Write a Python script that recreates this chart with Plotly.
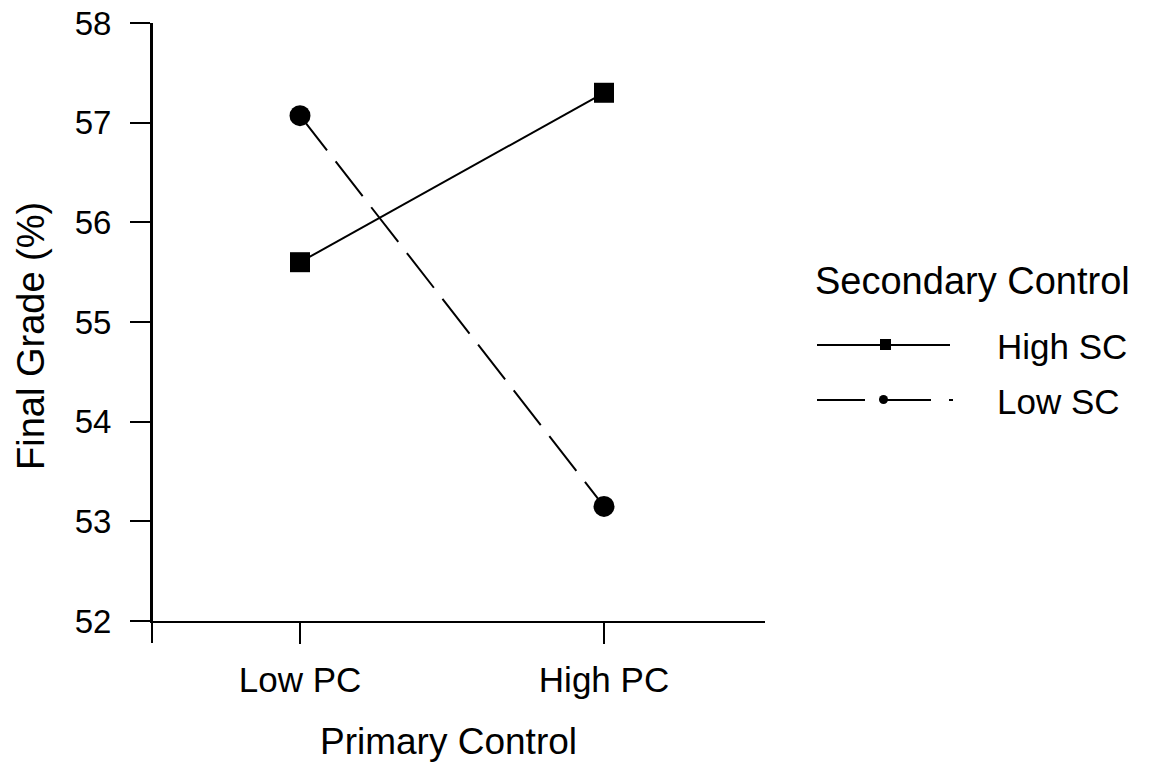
import plotly.graph_objects as go

categories = ["Low PC", "High PC"]
cat_pos = [0, 1]
high_sc = [55.6, 57.3]
low_sc = [57.07, 53.15]
y_ticks = [52, 53, 54, 55, 56, 57, 58]

W, H = 1156, 766
# plot area in page pixels
L, R, T, B = 152, 765, 23, 621
pw, ph = R - L, B - T

def px(x):
    return (x - L) / pw

def py(y):
    return (B - y) / ph

FONT = "Liberation Sans, Arial, sans-serif"

fig = go.Figure()
fig.add_trace(go.Scatter(
    x=cat_pos, y=high_sc, mode="lines+markers", name="High SC",
    line=dict(color="black", width=2),
    marker=dict(symbol="square", size=20, color="black"),
))
fig.add_trace(go.Scatter(
    x=cat_pos, y=low_sc, mode="lines+markers", name="Low SC",
    line=dict(color="black", width=2, dash="44px,14px"),
    marker=dict(symbol="circle", size=21, color="black"),
))

shapes = [
    dict(type="line", xref="paper", yref="paper", x0=0, x1=0, y0=1, y1=py(643),
         line=dict(color="black", width=2)),
    dict(type="line", xref="paper", yref="paper", x0=px(817), x1=px(950), y0=py(345), y1=py(345),
         line=dict(color="black", width=2)),
    dict(type="rect", xref="paper", yref="paper", x0=px(880), x1=px(891), y0=py(339), y1=py(350),
         line=dict(color="black", width=0), fillcolor="black"),
    dict(type="line", xref="paper", yref="paper", x0=px(817), x1=px(953), y0=py(400), y1=py(400),
         line=dict(color="black", width=2, dash="48px,18px")),
    dict(type="circle", xref="paper", yref="paper", x0=px(879), x1=px(888), y0=py(395), y1=py(404),
         line=dict(color="black", width=0), fillcolor="black"),
]

annotations = [
    dict(text="Primary Control", xref="paper", yref="paper", x=px(448), y=py(741),
         showarrow=False, font=dict(family=FONT, size=37, color="black"),
         xanchor="center", yanchor="middle"),
    dict(text="Final Grade (%)", xref="paper", yref="paper", x=px(31), y=py(336),
         showarrow=False, textangle=-90, font=dict(family=FONT, size=38, color="black"),
         xanchor="center", yanchor="middle"),
    dict(text="Secondary Control", xref="paper", yref="paper", x=px(813), y=py(281),
         showarrow=False, font=dict(family=FONT, size=38, color="black"),
         xanchor="left", yanchor="middle"),
    dict(text="High SC", xref="paper", yref="paper", x=px(995), y=py(346),
         showarrow=False, font=dict(family=FONT, size=35, color="black"),
         xanchor="left", yanchor="middle"),
    dict(text="Low SC", xref="paper", yref="paper", x=px(995), y=py(401),
         showarrow=False, font=dict(family=FONT, size=35, color="black"),
         xanchor="left", yanchor="middle"),
]

x_left = -(300 - L) / (604 - 300)
x_right = 1 + (R - 604) / (604 - 300)

fig.update_layout(
    width=W, height=H,
    margin=dict(l=L, r=W - R, t=T, b=H - B, pad=0, autoexpand=False),
    paper_bgcolor="white", plot_bgcolor="white",
    showlegend=False,
    hovermode=False,
    shapes=shapes,
    annotations=annotations,
    xaxis=dict(
        range=[x_left, x_right], tickvals=cat_pos, ticktext=categories,
        automargin=False,
        showgrid=False, zeroline=False, showline=True, linecolor="black", linewidth=2,
        ticks="outside", ticklen=21, tickwidth=2, tickcolor="black",
        ticklabelstandoff=6, ticklabeloverflow="allow",
        tickfont=dict(family=FONT, size=35, color="black"),
    ),
    yaxis=dict(
        range=[52, 58], tickvals=y_ticks,
        automargin=False,
        showgrid=False, zeroline=False, showline=True, linecolor="black", linewidth=2,
        ticks="outside", ticklen=20, tickwidth=2, tickcolor="black",
        ticklabelstandoff=12, ticklabeloverflow="allow",
        tickfont=dict(family=FONT, size=33, color="black"),
    ),
)

fig.write_html(
    "out.html",
    config={"displayModeBar": False, "staticPlot": True},
    post_script="document.body.style.margin='0';document.body.style.overflow='hidden';",
)
